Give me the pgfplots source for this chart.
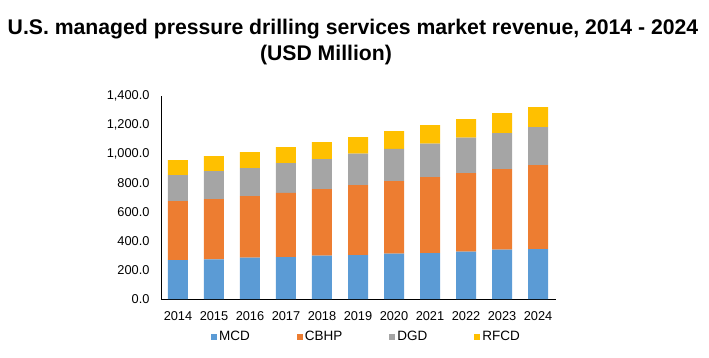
\documentclass[border=0pt]{standalone}
\usepackage{pgfplots}
\pgfplotsset{compat=1.18}
\usepackage{fontspec}
\setmainfont{Liberation Sans}
\definecolor{cMCD}{HTML}{5B9BD5}
\definecolor{cCBHP}{HTML}{ED7D31}
\definecolor{cDGD}{HTML}{A5A5A5}
\definecolor{cRFCD}{HTML}{FFC000}
\begin{document}
\begin{tikzpicture}[x=1pt,y=1pt]
\path (0,0) rectangle (709,357);
\node[anchor=base,inner sep=0,font=\fontsize{21.2}{25}\selectfont\bfseries] at (353,322) {U.S. managed pressure drilling services market revenue, 2014 - 2024};
\node[anchor=base,inner sep=0,font=\fontsize{21.2}{25}\selectfont\bfseries] at (326,297) {(USD Million)};
\begin{axis}[
  at={(161pt,58pt)}, anchor=south west,
  scale only axis, width=395pt, height=203.3pt,
  ybar stacked, bar width=20pt,
  xmin=-0.472, xmax=10.5, ymin=0, ymax=1400,
  axis lines*=left,
  axis line style={black, line width=0.8pt},
  xtick={0,...,10},
  xticklabels={2014,2015,2016,2017,2018,2019,2020,2021,2022,2023,2024},
  ytick={0,200,...,1400},
  major tick length=0pt,
  /pgf/number format/fixed, /pgf/number format/fixed zerofill, /pgf/number format/precision=1,
  /pgf/number format/1000 sep={,}, /pgf/number format/assume math mode=true,
  ticklabel style={font=\fontsize{12.8}{14}\selectfont, text=black},
  yticklabel style={xshift=-8pt},
  xticklabel style={yshift=-9pt},
  legend style={at={(0.1266,-0.187)}, anchor=west, draw=none, fill=none, inner sep=0pt,
    font=\fontsize{13.5}{15}\selectfont, legend cell align=left,
    /tikz/every even column/.append style={column sep=45pt}},
  legend columns=4,
  legend image code/.code={\fill[#1] (0pt,-3pt) rectangle (6pt,3pt);},
  every axis plot/.append style={draw=none},
]
\addplot[fill=cMCD] coordinates {(0,268.5) (1,273) (2,284.6) (3,289) (4,298) (5,303) (6,312) (7,316.7) (8,326) (9,339.7) (10,344)};
\addplot[fill=cCBHP] coordinates {(0,406.3) (1,415.5) (2,424.4) (3,441) (4,459) (5,482) (6,500.5) (7,523.3) (8,541.5) (9,555.3) (10,578.6)};
\addplot[fill=cDGD] coordinates {(0,179) (1,192.5) (2,193) (3,206) (4,207) (5,215.7) (6,220.5) (7,229.5) (8,243.5) (9,248) (10,261.4)};
\addplot[fill=cRFCD] coordinates {(0,103.2) (1,103.6) (2,110) (3,110.6) (4,117) (5,114.7) (6,123.7) (7,128.5) (8,128) (9,137.6) (10,138)};
\legend{MCD,CBHP,DGD,RFCD}
\end{axis}
\end{tikzpicture}
\end{document}
